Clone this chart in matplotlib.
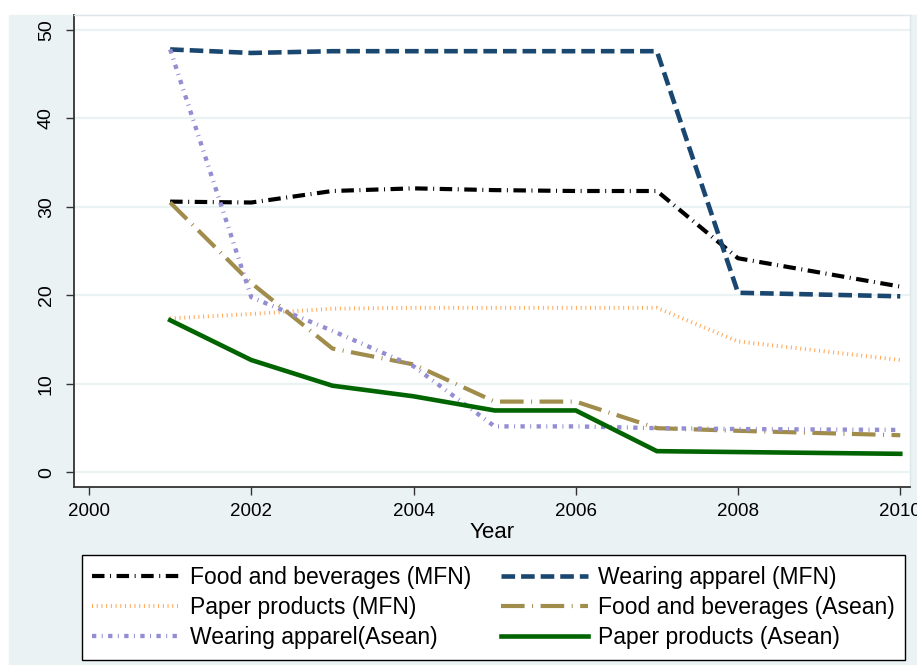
import matplotlib
matplotlib.use("Agg")
import matplotlib.pyplot as plt
from matplotlib.patches import Rectangle

plt.rcParams['font.family'] = ['Liberation Sans', 'DejaVu Sans']
plt.rcParams['lines.scale_dashes'] = False

# data
years = [2001, 2002, 2003, 2004, 2005, 2006, 2007, 2008, 2010]
food_mfn = [30.6, 30.5, 31.8, 32.1, 31.9, 31.8, 31.8, 24.2, 21.0]
apparel_mfn = [47.8, 47.4, 47.6, 47.6, 47.6, 47.6, 47.6, 20.3, 19.9]
paper_mfn = [17.4, 17.9, 18.5, 18.6, 18.6, 18.6, 18.6, 14.8, 12.7]
food_asean = [30.5, 21.4, 14.0, 12.2, 8.0, 8.0, 5.0, 4.7, 4.2]
apparel_asean = [47.8, 19.8, 16.0, 12.0, 5.2, 5.2, 5.0, 4.9, 4.8]
paper_asean = [17.2, 12.7, 9.8, 8.6, 7.0, 7.0, 2.4, 2.3, 2.1]

labels = ["Food and beverages (MFN)", "Wearing apparel (MFN)",
          "Paper products (MFN)", "Food and beverages (Asean)",
          "Wearing apparel(Asean)", "Paper products (Asean)"]

x_ticks = [2000, 2002, 2004, 2006, 2008, 2010]
y_ticks = [0, 10, 20, 30, 40, 50]

W, H = 917, 665
fig = plt.figure(figsize=(W / 100, H / 100), dpi=100)
fig.patch.set_facecolor('white')
fig.patches.append(Rectangle((9 / W, 0), (W - 9) / W, (H - 15) / H,
                             transform=fig.transFigure, color='#eaf2f3', zorder=-5))

ax = fig.add_axes([74 / W, (H - 487) / H, (910 - 74) / W, (487 - 15) / H])
ax.set_facecolor('white')
ax.set_zorder(1)

# series: (values, color, width, dash pattern in points)
styles = [
    (food_mfn, '#000000', 3.0, (0, (9.0, 4.0, 0.7, 4.0))),
    (apparel_mfn, '#1a476f', 3.3, (0, (9.8, 4.3))),
    (paper_mfn, '#ff9a3c', 2.8, (0, (0.7, 2.7))),
    (food_asean, '#a08c4b', 3.0, (0, (17.0, 5.4, 0.7, 5.4))),
    (apparel_asean, '#938dd2', 3.1, (0, (3.1, 3.9, 0.7, 3.9))),
    (paper_asean, '#006400', 3.3, None),
]

handles = []
for (vals, col, lw, ls), lab in zip(styles, labels):
    alpha = 0.9 if col == '#ff9a3c' else 1.0
    if ls is None:
        h, = ax.plot(years, vals, color=col, lw=lw, label=lab, solid_joinstyle='miter')
    else:
        h, = ax.plot(years, vals, color=col, lw=lw, linestyle=ls, alpha=alpha,
                     label=lab, dash_capstyle='butt')
    handles.append(h)

ax.set_xlim(1999.815, 2010.12)
ax.set_ylim(-1.65, 51.69)
ax.set_xticks(x_ticks)
ax.set_yticks(y_ticks)
ax.tick_params(axis='x', length=5.8, width=1, color='#333333', labelsize=13.5, pad=5.5)
ax.tick_params(axis='y', length=5.8, width=1, color='#333333', labelsize=14, pad=8)
for t in ax.get_yticklabels():
    t.set_rotation(90)
    t.set_va('center')

ax.grid(axis='y', color='#eaf2f3', lw=1.6)
ax.set_axisbelow(True)

for s in ['left', 'bottom']:
    ax.spines[s].set_color('#333333')
    ax.spines[s].set_linewidth(1.3)
for s in ['top', 'right']:
    ax.spines[s].set_color('#dde6e8')
    ax.spines[s].set_linewidth(1.0)

ax.set_xlabel("Year", fontsize=16, labelpad=2)

# legend, row-major order like the reference
order = [0, 2, 4, 1, 3, 5]
leg = fig.legend([handles[i] for i in order], [labels[i] for i in order],
                 ncol=2, loc='center', mode='expand',
                 bbox_to_anchor=(82 / W, 8 / H, 823 / W, 99 / H),
                 fontsize=16.5, frameon=True, fancybox=False, framealpha=1,
                 handlelength=3.8, handletextpad=0.45, labelspacing=0.32,
                 borderpad=0.45, borderaxespad=0)
leg.get_frame().set_edgecolor('black')
leg.get_frame().set_linewidth(1.0)
leg.get_frame().set_facecolor('white')

fig.savefig("out.png", dpi=100, facecolor=fig.get_facecolor())
